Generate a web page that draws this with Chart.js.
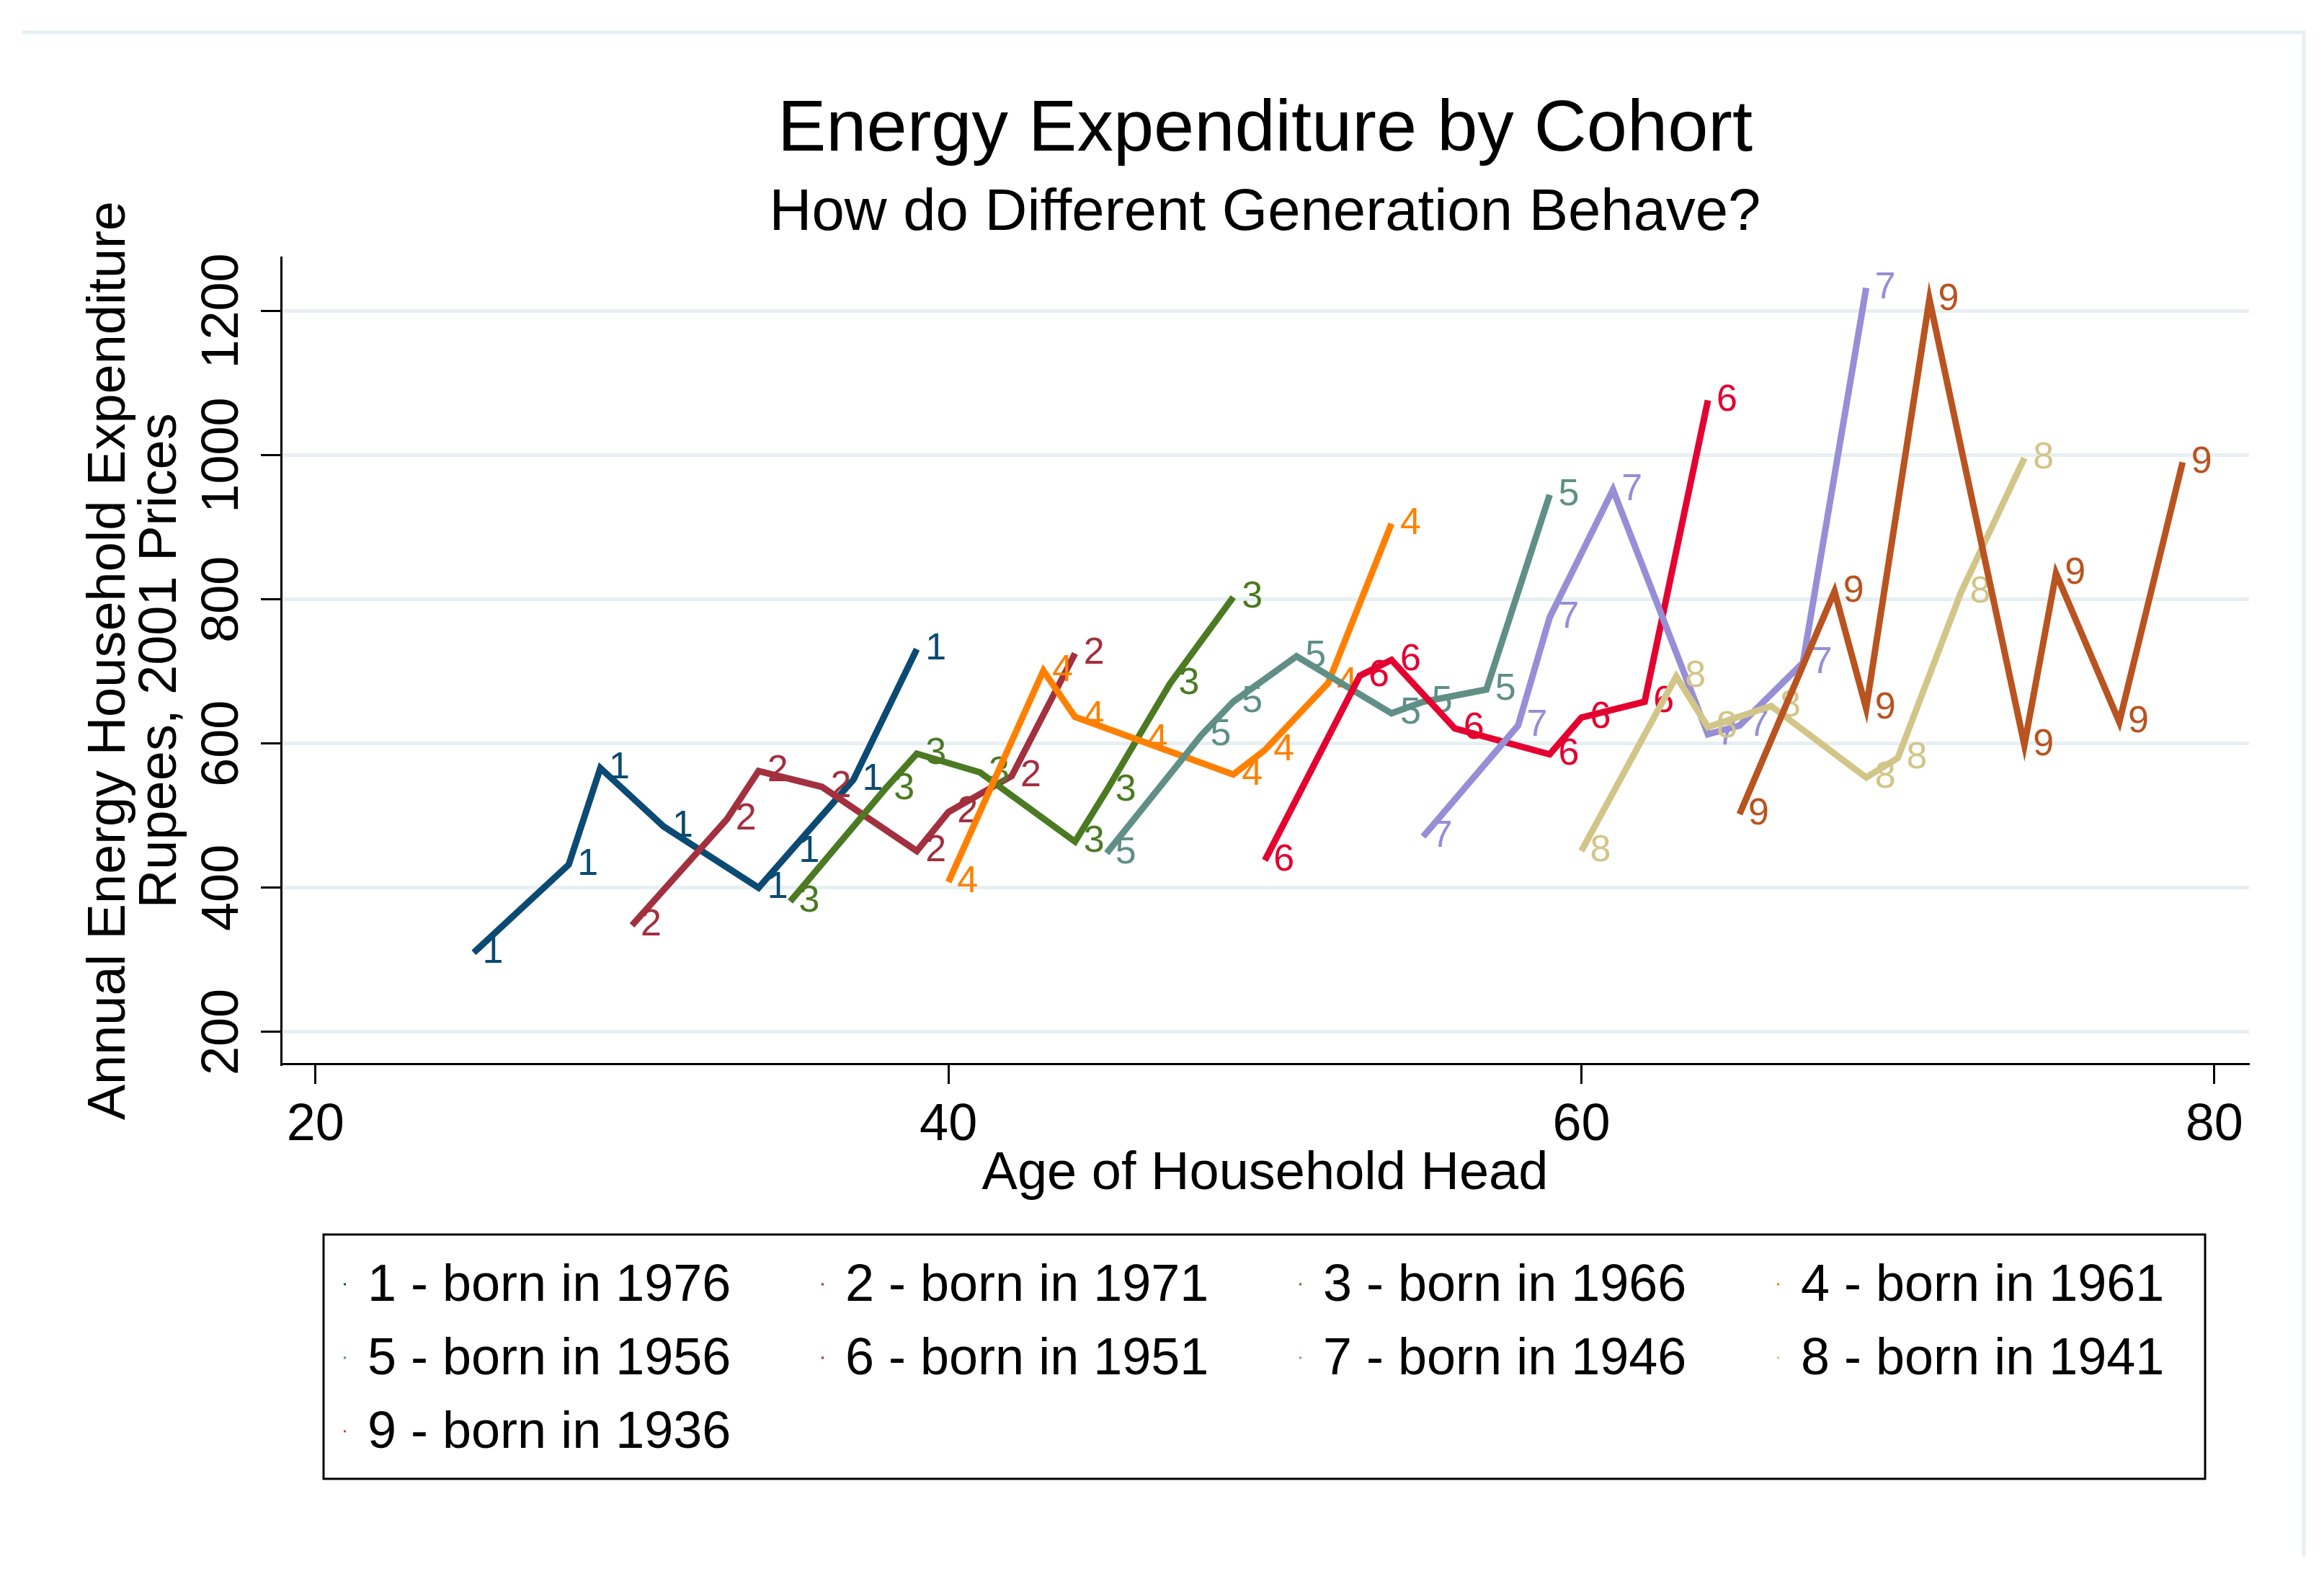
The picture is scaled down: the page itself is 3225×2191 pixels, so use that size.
<!DOCTYPE html>
<html>
<head>
<meta charset="utf-8">
<script src="https://cdn.jsdelivr.net/npm/chart.js@4.4.1/dist/chart.umd.min.js"></script>
<style>
html,body{margin:0;padding:0;background:#fff;}
#wrap{width:3225px;height:2191px;position:relative;}
</style>
</head>
<body>
<div id="wrap"><canvas id="cohortChart" width="3225" height="2191"></canvas></div>
<script>
// cohorts, one line each: age of head vs annual energy expenditure
const cohortCodes = ["1","2","3","4","5","6","7","8","9"];
const birthYears = [1976,1971,1966,1961,1956,1951,1946,1941,1936];
const lineColors = ["#0b4a72","#a2303f","#4b7a22","#ff8000","#5f8f86","#e4002f","#968ed6","#d2c588","#b9531f"];

const age1 = [25,28,29,31,34,35,37,39];
const exp1 = [310,432,566,485,400,450,550,731];
const age2 = [30,33,34,36,39,40,42,44];
const exp2 = [348,495,562,540,451,505,555,725];
const age3 = [35,38,39,41,44,45,47,49];
const exp3 = [381,537,586,560,464,535,683,803];
const age4 = [40,43,44,46,49,50,52,54];
const exp4 = [408,701,637,605,557,591,684,905];
const age5 = [45,48,49,51,54,55,57,59];
const exp5 = [448,612,658,721,642,658,675,945];
const age6 = [50,53,54,56,59,60,62,64];
const exp6 = [438,694,716,621,585,636,658,1076];
const age7 = [55,58,59,61,64,65,67,69];
const exp7 = [471,625,775,952,613,625,712,1232];
const age8 = [60,63,64,66,69,70,72,74];
const exp8 = [451,693,623,652,553,580,810,996];
const age9 = [65,68,69,71,74,75,77,79];
const exp9 = [502,811,649,1216,598,836,630,990];

const xTicks = [20,40,60,80];
const yTicks = [200,400,600,800,1000,1200];

const FONT = "'Liberation Sans', Arial, sans-serif";
const cohortAges = [age1,age2,age3,age4,age5,age6,age7,age8,age9];
const cohortExp = [exp1,exp2,exp3,exp4,exp5,exp6,exp7,exp8,exp9];

const datasets = cohortCodes.map((code,i) => ({
  label: `${code} - born in ${birthYears[i]}`,
  data: cohortAges[i].map((a,j) => ({x:a, y:cohortExp[i][j]})),
  borderColor: lineColors[i],
  backgroundColor: lineColors[i],
  borderWidth: 9,
  pointRadius: 0,
  tension: 0,
  fill: false,
  order: 8 - i
}));

// number beside every point, drawn right after its own line (stata style)
const pointLabels = {
  id: "pointLabels",
  afterDatasetDraw(chart, args){
    const ctx = chart.ctx, i = args.index;
    ctx.save();
    ctx.font = `52px ${FONT}`;
    ctx.fillStyle = lineColors[i];
    ctx.textAlign = "left";
    ctx.textBaseline = "middle";
    args.meta.data.forEach(pt => ctx.fillText(cohortCodes[i], pt.x + 12, pt.y));
    ctx.restore();
  }
};

// vertical y tick labels, reading bottom to top
const yLabels = {
  id: "yLabels",
  afterDraw(chart){
    const ctx = chart.ctx, ys = chart.scales.y;
    ctx.save();
    ctx.font = `72px ${FONT}`;
    ctx.fillStyle = "#000";
    ctx.textAlign = "center";
    ctx.textBaseline = "alphabetic";
    yTicks.forEach(v => {
      ctx.save();
      ctx.translate(ys.right - 60, ys.getPixelForValue(v));
      ctx.rotate(-Math.PI/2);
      ctx.fillText(String(v), 0, 0);
      ctx.restore();
    });
    ctx.restore();
  }
};

// boxed legend, 4 columns
const boxLegend = {
  id: "boxLegend",
  afterDraw(chart){
    const ctx = chart.ctx, ca = chart.chartArea, xs = chart.scales.x;
    const left = ca.left + 59, top = xs.bottom + 39;
    const right = 3060, bottom = top + 339;
    ctx.save();
    ctx.strokeStyle = "#000";
    ctx.lineWidth = 3;
    ctx.strokeRect(left, top, right - left, bottom - top);
    ctx.font = `72px ${FONT}`;
    ctx.textAlign = "left";
    ctx.textBaseline = "middle";
    chart.data.datasets.forEach((ds,i) => {
      const col = i % 4, row = Math.floor(i/4);
      const tx = left + 61 + col*663, ty = top + 72.5 + row*102;
      ctx.fillStyle = ds.borderColor;
      ctx.fillRect(tx - 33, ty - 5, 3, 3);
      ctx.fillStyle = "#000";
      ctx.fillText(ds.label, tx, ty);
    });
    ctx.restore();
  }
};

// faint outer frame of the graph region
const outerFrame = {
  id: "outerFrame",
  beforeDraw(chart){
    const ctx = chart.ctx;
    ctx.save();
    ctx.fillStyle = "#fff";
    ctx.fillRect(0, 0, chart.width, chart.height);
    ctx.strokeStyle = "#e6eff1";
    ctx.lineWidth = 5;
    ctx.beginPath();
    ctx.moveTo(31, 45); ctx.lineTo(3197, 45); ctx.lineTo(3197, 2160);
    ctx.stroke();
    ctx.restore();
  }
};

Chart.defaults.font.family = FONT;
Chart.defaults.color = "#000";

new Chart(document.getElementById("cohortChart"), {
  type: "line",
  data: {datasets},
  plugins: [outerFrame, pointLabels, yLabels, boxLegend],
  options: {
    responsive: false,
    devicePixelRatio: 1,
    animation: false,
    layout: {padding: {top: 0, left: 0, right: 104, bottom: 517}},
    plugins: {
      legend: {display: false},
      tooltip: {enabled: false},
      title: {
        display: true, text: "Energy Expenditure by Cohort", fullSize: false, color: "#000",
        font: {size: 101, weight: "normal", lineHeight: 1.2}, padding: {top: 120.9, bottom: 0}
      },
      subtitle: {
        display: true, text: "How do Different Generation Behave?", fullSize: false, color: "#000",
        font: {size: 81.5, weight: "normal", lineHeight: 1.2}, padding: {top: 6, bottom: 11.5}
      }
    },
    scales: {
      x: {
        type: "linear", min: 18.91, max: 81.1,
        afterBuildTicks: s => { s.ticks = xTicks.map(v => ({value: v})); },
        afterFit: s => { s.height = 198; },
        border: {display: true, color: "#000", width: 3},
        grid: {drawOnChartArea: false, drawTicks: true, tickLength: 28, tickColor: "#000", tickWidth: 3},
        ticks: {font: {size: 72}, color: "#000", padding: 15, maxRotation: 0, callback: v => String(v)},
        title: {display: true, text: "Age of Household Head", color: "#000",
          font: {size: 74, lineHeight: 1.2}, padding: {top: 0, bottom: 0}}
      },
      y: {
        type: "linear", min: 156, max: 1274,
        afterBuildTicks: s => { s.ticks = yTicks.map(v => ({value: v})); },
        afterFit: s => { s.width = 390; },
        border: {display: true, color: "#000", width: 3},
        grid: {color: "#e6eff1", lineWidth: 5, drawTicks: true, tickLength: 28, tickColor: "#000", tickWidth: 3},
        ticks: {display: false},
        title: {display: true, text: ["Annual Energy Household Expenditure", "Rupees, 2001 Prices"], color: "#000",
          font: {size: 74, lineHeight: 0.96}, padding: {top: 117.5, bottom: 0}}
      }
    }
  }
});
</script>
</body>
</html>
